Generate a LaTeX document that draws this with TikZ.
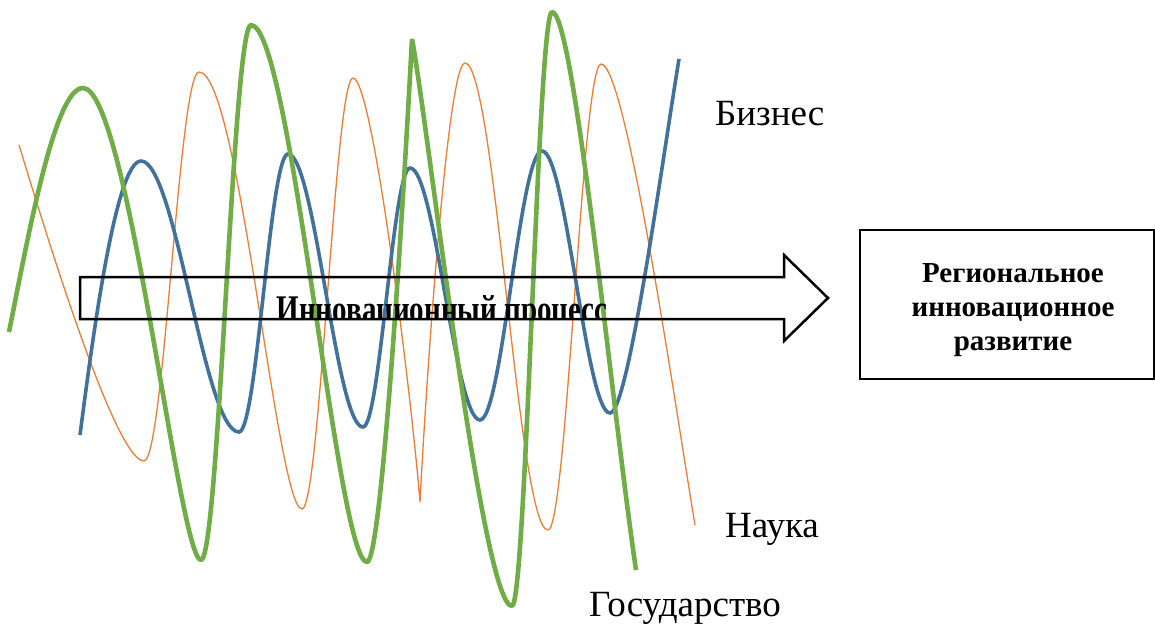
\documentclass[tikz,border=0pt]{standalone}
\usepackage{fontspec}
\setmainfont{Liberation Serif}
\usepackage{tikz}
\usetikzlibrary{positioning, calc}

\definecolor{bizblue}{HTML}{41719C}
\definecolor{naukaorange}{HTML}{ED7D31}
\definecolor{gosgreen}{HTML}{70AD47}

\begin{document}
\begin{tikzpicture}[
    x=1pt, y=-1pt,
    biznes/.style={draw=bizblue, line width=3.6pt},
    nauka/.style={draw=naukaorange, line width=1.3pt, line join=bevel},
    gos/.style={draw=gosgreen, line width=4.6pt, line join=bevel},
    bigarrow/.style={draw, line width=2.5pt, line join=miter},
    regbox/.style={draw, line width=1.5pt, minimum width=294pt, minimum height=149pt},
    sidetext/.style={anchor=base west, inner sep=0pt, font=\fontsize{37}{42}\selectfont},
    boldtext/.style={align=center, inner sep=0pt, font=\fontsize{29}{34}\selectfont\bfseries}
]
    \useasboundingbox (0,0) rectangle (1155,626);

    % --- Nauka (orange) ---
    \draw[nauka] (19,145) .. controls +(20,65) and +(-30,0) .. (144,461)
        .. controls +(20,0) and +(-20,0) .. (199,72)
        .. controls +(40,0) and +(-25,0) .. (302,509)
        .. controls +(18,0) and +(-18,0) .. (353,78)
        .. controls +(20,0) and +(-8,-100) .. (420,502)
        .. controls +(5,-100) and +(-18,0) .. (465,63)
        .. controls +(30,0) and +(-30,0) .. (548,530)
        .. controls +(19,0) and +(-19,0) .. (601,64)
        .. controls +(25,0) and +(-20,-120) .. (695,525);

    % --- Biznes (blue) ---
    \draw[biznes] (80,435) .. controls +(13,-100) and +(-25,0) .. (141,161)
        .. controls +(35,0) and +(-35,0) .. (239,432)
        .. controls +(18,0) and +(-18,0) .. (288,154)
        .. controls +(27,0) and +(-27,0) .. (363,427)
        .. controls +(17,0) and +(-17,0) .. (410,168)
        .. controls +(25,0) and +(-25,0) .. (480,420)
        .. controls +(22,0) and +(-22,0) .. (542,151)
        .. controls +(24,0) and +(-24,0) .. (610,413)
        .. controls +(18,0) and +(-18,110) .. (679,59);

    % --- Gosudarstvo (green) ---
    \draw[gos] (9,332) .. controls +(20,-100) and +(-28,0) .. (83,88)
        .. controls +(45,0) and +(-22,0) .. (201,560)
        .. controls +(18,0) and +(-18,0) .. (251,25)
        .. controls +(40,0) and +(-30,0) .. (367,562)
        .. controls +(15,0) and +(-8,150) .. (412,39)
        .. controls +(16,85) and +(-30,0) .. (512,606)
        .. controls +(14,0) and +(-14,0) .. (552,12)
        .. controls +(22,0) and +(-25,-170) .. (636,570);

    % --- Process arrow ---
    \begin{scope}
        \clip (80,277) rectangle (784,318);
        \node[boldtext, anchor=base, yscale=1.35, transform shape] (proc) at (442,322) {Инновационный процесс};
    \end{scope}
    \draw[bigarrow] (80,277) -- (784,277) -- (784,255) -- (828,298)
        -- (784,341) -- (784,319) -- (80,319) -- cycle;

    % --- Result box ---
    \node[regbox] (box) at (1007,304.5) {};
    \node[boldtext] (razv) at (1013,310) {Региональное\\инновационное\\развитие};

    % --- Labels ---
    \node[sidetext] (biz) at (715,125) {Бизнес};
    \node[sidetext] (nauka) at (725,537) {Наука};
    \node[sidetext] (gos) at (589,616) {Государство};

\end{tikzpicture}
\end{document}
